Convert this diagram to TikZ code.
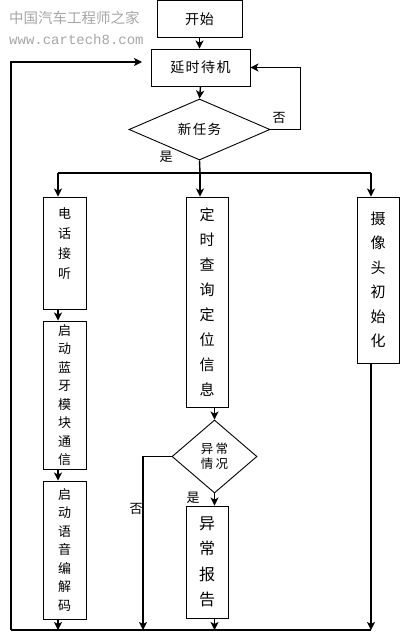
\documentclass[tikz,border=0pt]{standalone}
\usepackage{fontspec}
\setmainfont{Noto Sans CJK SC}
\newfontfamily\monofnt{Liberation Mono}
\usetikzlibrary{shapes.geometric,arrows.meta,calc}
\begin{document}
\begin{tikzpicture}[x=1pt,y=-1pt,
 box/.style={draw,line width=0.9pt,inner sep=0pt,align=center},
 dia/.style={draw,diamond,line width=0.9pt,inner sep=0pt,align=center},
 arr/.style={line width=1.4pt,-{Stealth[length=8pt,width=8pt,inset=2pt]}},
 ln/.style={line width=1.4pt},
 lbl/.style={font=\fontsize{13}{13}\selectfont,inner sep=0pt},
 wm/.style={text=black!35,inner sep=0pt,anchor=west},
 ]
\useasboundingbox (0,0) rectangle (400,632);
% watermark
\node[wm,font=\fontsize{14.5}{14.5}\selectfont] (wm1) at (9,18) {中国汽车工程师之家};
\node[wm,font=\monofnt\fontsize{14}{14}\selectfont] (wm2) at (9,39) {www.cartech8.com};
% nodes
\node[box,minimum width=85pt,minimum height=36.5pt,font=\fontsize{14}{14}\selectfont] (start) at (199.5,18.75) {开\hspace{1pt}始};
\node[box,minimum width=99pt,minimum height=37pt,font=\fontsize{14}{14}\selectfont] (wait) at (200.5,67.5) {延\hspace{1.5pt}时\hspace{1.5pt}待\hspace{1.5pt}机};
\node[dia,minimum width=141pt,minimum height=61pt,font=\fontsize{13.5}{13.5}\selectfont] (task) at (199.5,129.5) {新\hspace{1.5pt}任\hspace{1.5pt}务};
\node[box,minimum width=43pt,minimum height=112pt,font=\fontsize{13}{20}\selectfont] (phone) at (64.5,253) {电\\话\\接\\听\\\mbox{}};
\node[box,minimum width=43pt,minimum height=148pt,font=\fontsize{13}{18.5}\selectfont] (bt) at (64.5,395) {启\\动\\蓝\\牙\\模\\块\\通\\信};
\node[box,minimum width=43pt,minimum height=138pt,font=\fontsize{13}{18.5}\selectfont] (voice) at (64.5,550) {启\\动\\语\\音\\编\\解\\码};
\node[box,minimum width=42pt,minimum height=210pt,font=\fontsize{15}{25}\selectfont] (locate) at (207,302) {定\\时\\查\\询\\定\\位\\信\\息};
\node[dia,minimum width=85pt,minimum height=73pt,font=\fontsize{12.5}{15}\selectfont] (abn) at (214.5,456.5) {异\,常\\情\,况};
\node[box,minimum width=42pt,minimum height=112pt,font=\fontsize{16}{25.3}\selectfont] (report) at (207,562) {异\\常\\报\\告};
\node[box,minimum width=42pt,minimum height=166pt,font=\fontsize{15}{24.5}\selectfont] (cam) at (378,280) {摄\\像\\头\\初\\始\\化};
% labels
\node[lbl] (no1) at (279,118) {否};
\node[lbl] (yes1) at (166,157) {是};
\node[lbl] (no2) at (136,509) {否};
\node[lbl] (yes2) at (193,498) {是};
% coordinates
\coordinate (split) at (200,173);
\coordinate (sL) at (58,173);
\coordinate (sR) at (371,173);
\coordinate (bL) at (11,630);
\coordinate (bN) at (143,630);
\coordinate (bR) at (371,630);
\coordinate (back) at (142,62);
% connectors
\draw[arr] (start.south) -- (start.south |- wait.north);
\draw[arr] (wait.south) -- (task.north);
\draw[arr] (task.east) -- ++(30,0) |- (wait.east);
\draw[ln] (task.south) -- (split);
\draw[ln] (sL) -- (sR);
\draw[arr] (sL) -- (sL |- phone.north);
\draw[arr] (split) -- (split |- locate.north);
\draw[arr] (sR) -- (sR |- cam.north);
\draw[arr] (sL |- phone.south) -- (sL |- bt.north);
\draw[arr] (sL |- bt.south) -- (sL |- voice.north);
\draw[arr] (sL |- voice.south) -- (sL |- bL);
\draw[arr] (abn.north |- locate.south) -- (abn.north);
\draw[arr] (abn.west) -| (bN);
\draw[arr] (abn.south) -- (abn.south |- report.north);
\draw[arr] (abn.south |- report.south) -- (abn.south |- bL);
\draw[arr] (sR |- cam.south) -- (bR);
\draw[ln] (bL) -- (bR);
\draw[arr] (bL) |- (back);
\end{tikzpicture}
\end{document}
